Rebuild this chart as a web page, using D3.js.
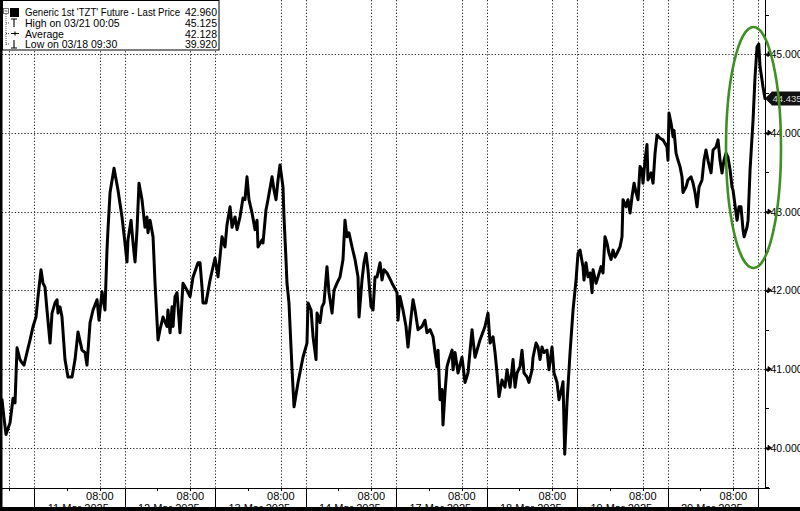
<!DOCTYPE html>
<html><head><meta charset="utf-8">
<script src="https://cdn.jsdelivr.net/npm/d3@7"></script>
<style>html,body{margin:0;padding:0;background:#fff;}svg{display:block;font-family:"Liberation Sans",Arial,sans-serif;}</style>
</head><body><svg id="c" width="800" height="511"></svg>
<script>
// ---- data (time = trading-session day index; 1 session = 00:00-11:00; 1 = 11 Mar 2025) ----
const times = [0.646,0.668,0.690,0.735,0.768,0.790,0.812,0.845,0.867,0.889,0.922,0.956,0.989,1.022,1.044,1.077,1.099,1.121,1.143,1.177,1.199,1.232,1.254,1.265,1.287,1.309,1.342,1.375,1.420,1.453,1.486,1.530,1.563,1.585,1.619,1.652,1.696,1.718,1.751,1.784,1.806,1.817,1.840,1.884,1.928,1.972,2.005,2.027,2.038,2.072,2.094,2.116,2.138,2.160,2.193,2.226,2.248,2.259,2.282,2.315,2.337,2.370,2.392,2.425,2.469,2.480,2.503,2.525,2.536,2.558,2.580,2.613,2.646,2.690,2.724,2.757,2.812,
2.834,2.856,2.867,2.900,2.945,3.000,3.033,3.077,3.110,3.132,3.166,3.188,3.221,3.243,3.276,3.309,3.331,3.353,3.375,3.409,3.442,3.464,3.475,3.519,3.530,3.563,3.585,3.630,3.652,3.674,3.696,3.718,3.751,3.762,3.784,3.795,3.817,3.851,3.873,3.917,3.972,4.016,4.027,4.061,4.083,4.116,4.127,4.160,4.182,4.204,4.237,4.259,4.293,4.315,4.348,4.381,4.414,4.436,4.458,4.480,4.514,4.547,4.580,4.591,4.624,4.646,4.668,4.690,4.724,4.746,4.768,4.790,4.823,4.845,4.867,4.900,4.956,5.011,5.022,5.044,
5.077,5.110,5.132,5.166,5.188,5.210,5.243,5.287,5.320,5.342,5.376,5.409,5.431,5.453,5.464,5.486,5.508,5.519,5.541,5.563,5.585,5.619,5.630,5.652,5.685,5.729,5.762,5.795,5.840,5.851,5.873,5.928,5.983,6.016,6.039,6.072,6.094,6.116,6.138,6.171,6.204,6.226,6.260,6.293,6.315,6.337,6.370,6.392,6.414,6.447,6.469,6.503,6.514,6.547,6.569,6.591,6.613,6.635,6.668,6.690,6.724,6.746,6.779,6.801,6.834,6.845,6.864,6.889,6.923,6.956,6.989,7.011,7.033,7.066,7.077,7.099,7.121,7.144,7.166,7.177,7.210,7.232,7.265,7.287,7.309,7.331,7.353,7.376,7.398,7.420,7.442,7.475,7.497,7.508,7.541,7.563,7.586,7.608,7.630,7.652,7.674,7.696,7.718,7.729,7.751,7.773,7.784,7.818,7.840,7.862,7.884,7.917,7.950,7.994,
8.005,8.016,8.039,8.061,8.072,8.094,8.116,8.138,8.160,8.171,8.204,8.226,8.260,8.282,8.304,8.326,8.348,8.381,8.403,8.425,8.447,8.481,8.503,8.536,8.558,8.580,8.602,8.624,8.646,8.668,8.691,8.713,8.724,8.757,8.768,8.790,8.812,8.834,8.846,8.878,8.890,8.912,8.945,8.967,8.989,9.008,9.022,9.044,9.055,9.077];
const prices = [40.61,40.38,40.17,40.32,40.63,40.57,41.27,41.12,41.08,41.05,41.21,41.37,41.54,41.66,41.92,42.26,42.09,42.04,41.75,41.33,41.71,41.84,41.88,41.71,41.79,41.66,41.12,40.90,40.90,41.12,41.47,41.24,41.21,41.05,41.59,41.75,41.88,41.62,41.98,41.75,42.51,42.77,43.24,43.55,43.27,42.93,42.60,42.36,42.64,42.89,42.60,42.36,42.77,43.36,43.15,42.80,42.93,42.73,42.89,42.68,42.09,41.37,41.50,41.66,41.54,41.75,41.46,41.79,41.54,41.92,41.97,41.46,42.09,42.00,41.92,42.17,42.35,
42.35,42.04,41.84,41.84,42.13,42.41,42.17,42.68,42.55,42.83,43.06,42.80,42.93,42.77,42.93,43.17,43.15,43.44,43.15,42.98,42.77,42.89,42.55,42.64,42.60,43.02,43.15,43.44,43.27,43.15,43.40,43.59,43.31,42.93,42.39,42.09,41.84,40.99,40.52,40.83,41.15,41.33,41.84,41.75,41.41,41.12,41.71,41.59,41.79,41.84,42.30,41.97,41.71,42.00,42.09,42.17,42.39,42.89,42.68,42.73,42.55,42.39,42.17,41.66,42.13,42.35,42.47,42.26,41.79,41.75,42.17,42.17,42.35,42.13,42.26,42.22,42.09,41.97,41.62,41.92,
41.75,41.54,41.28,41.66,41.88,41.75,41.50,41.54,41.62,41.46,41.50,41.41,41.21,41.03,41.24,40.61,40.74,40.29,40.70,41.03,41.12,41.24,40.99,41.21,40.95,41.15,40.83,40.95,41.50,41.37,41.15,41.37,41.54,41.71,41.33,41.41,41.21,40.95,40.65,40.86,40.77,40.99,40.77,41.12,40.77,40.95,41.03,41.24,40.95,40.90,40.83,40.99,41.15,41.33,41.28,41.12,41.28,41.21,41.24,40.99,41.28,40.95,40.83,40.61,40.77,40.84,39.92,40.57,41.21,41.75,42.13,42.47,42.51,42.30,42.13,42.35,42.17,42.22,41.97,42.26,42.09,42.17,42.30,42.22,42.68,42.60,42.47,42.39,42.51,42.42,42.47,42.55,42.68,43.15,43.06,43.15,42.98,43.19,43.36,43.24,43.15,43.57,43.53,43.36,43.65,43.85,43.40,43.49,43.36,43.74,43.97,43.93,43.91,43.82,
43.65,44.25,44.12,43.95,44.03,43.74,43.65,43.57,43.44,43.24,43.31,43.40,43.44,43.36,43.24,43.06,43.31,43.40,43.65,43.78,43.65,43.49,43.78,43.82,43.91,43.65,43.49,43.65,43.74,43.69,43.53,43.31,43.27,42.98,42.89,43.06,43.06,42.77,42.68,42.80,42.89,43.53,44.16,44.71,45.09,45.125,44.84,44.67,44.58,44.435];
const yTicks = [40, 41, 42, 43, 44, 45];
const yMinorTicks = [39.5, 40.5, 41.5, 42.5, 43.5, 44.5, 45.5];
const sessionDays = [1, 2, 3, 4, 5, 6, 7, 8, 9];
const dayLabels = ["11 Mar 2025", "12 Mar 2025", "13 Mar 2025", "14 Mar 2025", "17 Mar 2025", "18 Mar 2025", "19 Mar 2025", "20 Mar 2025"];
const sessionHours = 11;
const hourTickLabel = "08:00";
const hourTick = 8;
const minorHourTick = 4;
const legendRows = [
  {icon: "square", label: "Generic 1st 'TZT' Future - Last Price", value: "42.960"},
  {icon: "high", label: "High on 03/21 00:05", value: "45.125"},
  {icon: "avg", label: "Average", value: "42.128"},
  {icon: "low", label: "Low on 03/18 09:30", value: "39.920"}
];
const lastPrice = 44.435;

// ---- layout ----
const W = 800, H = 511;
const plot = {left: 2, right: 765, top: 0, bottom: 488};
const svg = d3.select("#c");
const x = d3.scaleLinear().domain(d3.extent(times)).range([plot.left, plot.right]);
const y = d3.scaleLinear().domain([39.49, 45.685]).range([plot.bottom, plot.top]);
const fmt = d3.format(".3f");
const dotted = "1.2,2";

// grid: horizontal
svg.append("g").selectAll("line").data(yTicks).join("line")
  .attr("x1", plot.left).attr("x2", plot.right)
  .attr("y1", d => Math.round(y(d)) + 0.5).attr("y2", d => Math.round(y(d)) + 0.5)
  .attr("stroke", "#222").attr("stroke-width", 1).attr("stroke-dasharray", dotted);
// grid: vertical (session boundaries and 08:00)
const vgrid = [];
sessionDays.forEach(d => vgrid.push(d));
[0].concat(sessionDays.slice(0, 8)).forEach(d => vgrid.push(d + hourTick / sessionHours));
svg.append("g").selectAll("line").data(vgrid).join("line")
  .attr("x1", d => Math.round(x(d)) + 0.5).attr("x2", d => Math.round(x(d)) + 0.5)
  .attr("y1", plot.top).attr("y2", plot.bottom)
  .attr("stroke", "#222").attr("stroke-width", 1).attr("stroke-dasharray", dotted);

// price line
const line = d3.line().x((d, i) => x(times[i])).y(d => y(d));
svg.append("path").datum(prices).attr("d", line)
  .attr("fill", "none").attr("stroke", "#000").attr("stroke-width", 3)
  .attr("stroke-linejoin", "round").attr("stroke-linecap", "round");

// right axis
svg.append("line").attr("x1", plot.right + 0.5).attr("x2", plot.right + 0.5)
  .attr("y1", plot.top).attr("y2", plot.bottom).attr("stroke", "#000").attr("stroke-width", 1);
const ra = svg.append("g");
ra.selectAll("path.maj").data(yTicks).join("path").attr("class", "maj")
  .attr("d", d => { const yy = y(d); return `M${plot.right},${yy}L${plot.right + 3},${yy}L${plot.right + 3},${yy - 2.5}L${plot.right + 6.5},${yy}L${plot.right + 3},${yy + 2.5}Z`; })
  .attr("fill", "#000").attr("stroke", "#000").attr("stroke-width", 0.8);
ra.selectAll("line.min").data(yMinorTicks).join("line").attr("class", "min")
  .attr("x1", plot.right).attr("x2", plot.right + 4)
  .attr("y1", d => Math.round(y(d)) + 0.5).attr("y2", d => Math.round(y(d)) + 0.5)
  .attr("stroke", "#000");
ra.selectAll("text").data(yTicks).join("text")
  .attr("x", plot.right + 5.5).attr("y", d => y(d) + 4)
  .attr("font-size", 10.5).attr("fill", "#000").text(d => fmt(d));

// bottom axis
svg.append("line").attr("x1", 0).attr("x2", plot.right + 5)
  .attr("y1", plot.bottom + 0.5).attr("y2", plot.bottom + 0.5).attr("stroke", "#000");
const ba = svg.append("g");
ba.selectAll("line.sep").data(sessionDays).join("line").attr("class", "sep")
  .attr("x1", d => Math.round(x(d)) + 0.5).attr("x2", d => Math.round(x(d)) + 0.5)
  .attr("y1", plot.bottom).attr("y2", H).attr("stroke", "#000");
const hourTicks = [];
[0].concat(sessionDays.slice(0, 8)).forEach(d => { hourTicks.push(d + minorHourTick / sessionHours); hourTicks.push(d + hourTick / sessionHours); });
ba.selectAll("line.ht").data(hourTicks.filter(t => x(t) <= plot.right)).join("line").attr("class", "ht")
  .attr("x1", d => Math.round(x(d)) + 0.5).attr("x2", d => Math.round(x(d)) + 0.5)
  .attr("y1", plot.bottom).attr("y2", plot.bottom + 3).attr("stroke", "#000");
ba.selectAll("text.h").data(sessionDays.slice(0, 8)).join("text").attr("class", "h")
  .attr("x", d => x(d + hourTick / sessionHours)).attr("y", plot.bottom + 12)
  .attr("text-anchor", "middle").attr("font-size", 11).text(hourTickLabel);
ba.selectAll("text.d").data(dayLabels).join("text").attr("class", "d")
  .attr("x", (d, i) => (x(sessionDays[i]) + x(sessionDays[i + 1])) / 2 - 1).attr("y", plot.bottom + 24)
  .attr("text-anchor", "middle").attr("font-size", 11).text(d => d);

// frame
svg.append("rect").attr("x", 0).attr("y", 507).attr("width", W).attr("height", 4).attr("fill", "#000");
svg.append("rect").attr("x", 0).attr("y", 0).attr("width", 2.5).attr("height", H).attr("fill", "#000");

// last price tag
const ly = y(lastPrice);
svg.append("path")
  .attr("d", `M${plot.right},${ly}L${plot.right + 7},${ly - 7}L${W},${ly - 7}L${W},${ly + 7}L${plot.right + 7},${ly + 7}Z`)
  .attr("fill", "#111");
svg.append("text").attr("x", plot.right + 7.5).attr("y", ly + 3.5).attr("font-size", 9.5)
  .attr("fill", "#d8d8d8").text(fmt(lastPrice));

// green highlight ellipse
svg.append("ellipse").attr("cx", 753.5).attr("cy", 147.5).attr("rx", 27.5).attr("ry", 120.5)
  .attr("fill", "none").attr("stroke", "#3f8f22").attr("stroke-width", 2.6);

// legend
const lg = svg.append("g");
lg.append("rect").attr("x", 2.5).attr("y", 0.5).attr("width", 216.5).attr("height", 49.5)
  .attr("fill", "#fff").attr("stroke", "#000").attr("stroke-width", 1);
const rowY = [16, 27, 37.5, 48];
// tree connector
lg.append("rect").attr("x", 3.5).attr("y", 8.5).attr("width", 5).attr("height", 5).attr("fill", "#fff").attr("stroke", "#555").attr("stroke-width", 0.8);
lg.append("line").attr("x1", 4.5).attr("x2", 7.5).attr("y1", 11).attr("y2", 11).attr("stroke", "#333").attr("stroke-width", 0.8);
lg.append("line").attr("x1", 6).attr("x2", 6).attr("y1", 14).attr("y2", 45).attr("stroke", "#555").attr("stroke-dasharray", "1,1");
[1, 2, 3].forEach(i => lg.append("line").attr("x1", 6).attr("x2", 10).attr("y1", rowY[i] - 4).attr("y2", rowY[i] - 4)
  .attr("stroke", "#555").attr("stroke-dasharray", "1,1"));
// icons
lg.append("rect").attr("x", 10).attr("y", 8).attr("width", 9).attr("height", 9).attr("fill", "#000");
lg.append("path").attr("d", `M11,${rowY[1] - 8}L17,${rowY[1] - 8}M14,${rowY[1] - 8}L14,${rowY[1]}`).attr("stroke", "#000").attr("stroke-width", 1.1).attr("fill", "none");
lg.append("path").attr("d", `M11,${rowY[2] - 4}L19,${rowY[2] - 4}M15,${rowY[2] - 6}L15,${rowY[2] - 2}`).attr("stroke", "#000").attr("stroke-width", 1.1).attr("fill", "none");
lg.append("path").attr("d", `M11,${rowY[3]}L17,${rowY[3]}M14,${rowY[3] - 8}L14,${rowY[3]}`).attr("stroke", "#000").attr("stroke-width", 1.1).attr("fill", "none");
lg.selectAll("text.l").data(legendRows).join("text").attr("class", "l")
  .attr("x", 25).attr("y", (d, i) => rowY[i]).attr("font-size", 10.5).attr("fill", "#000")
  .each(function (d, i) { if (i === 0) d3.select(this).attr("textLength", 155).attr("lengthAdjust", "spacingAndGlyphs"); })
  .text(d => d.label);
lg.selectAll("text.v").data(legendRows).join("text").attr("class", "v")
  .attr("x", 217).attr("y", (d, i) => rowY[i]).attr("text-anchor", "end").attr("font-size", 10.5).attr("fill", "#000").text(d => d.value);
</script></body></html>
